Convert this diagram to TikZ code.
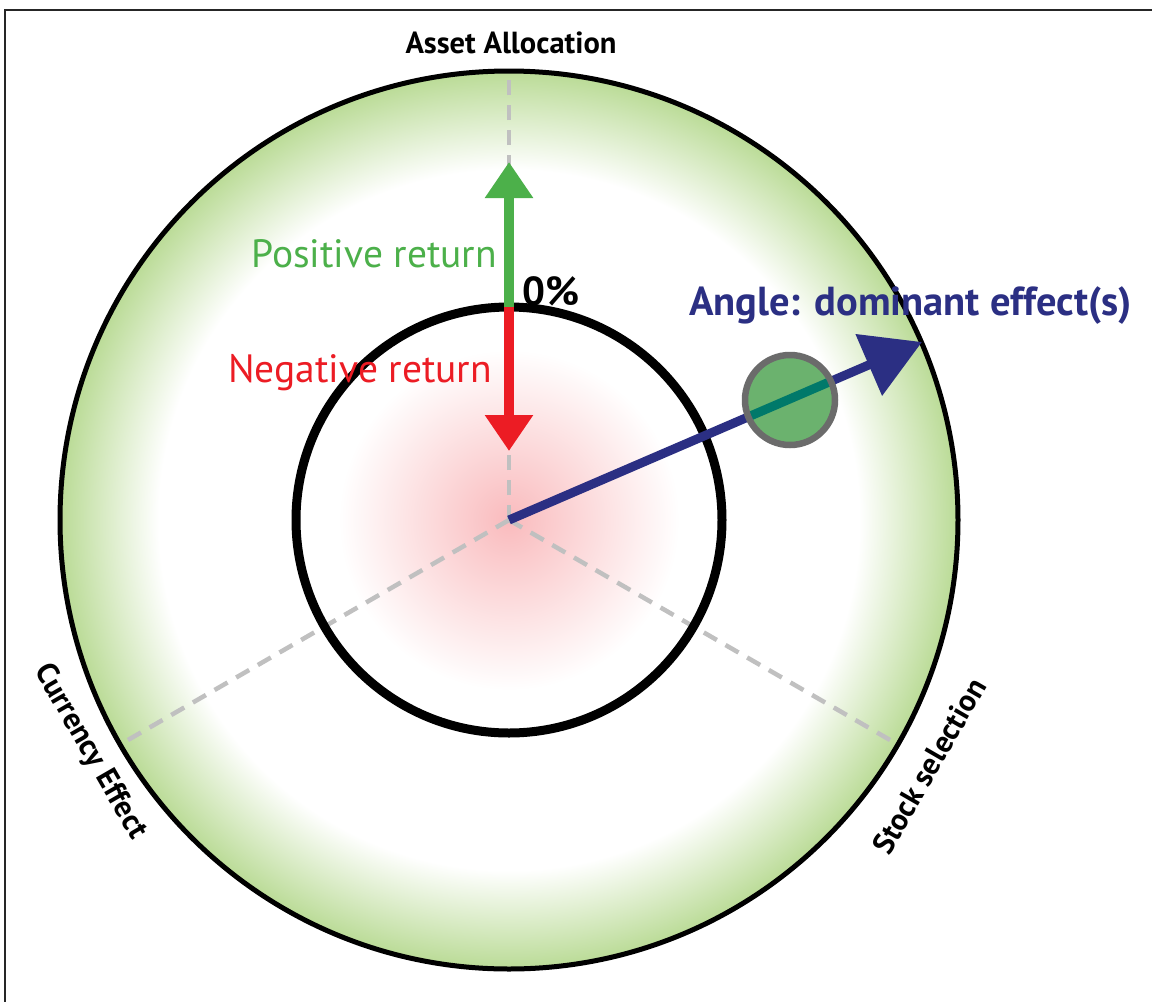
\documentclass[tikz,border=0pt]{standalone}
\usepackage{fontspec}
\setmainfont{PT Sans}
\usepackage{xcolor}
\usepackage{tikz}
\usetikzlibrary{arrows.meta, calc, positioning}

\definecolor{ringgreen}{RGB}{186,219,150}
\definecolor{posgreen}{RGB}{76,176,74}
\definecolor{negred}{RGB}{236,28,36}
\definecolor{navyblue}{RGB}{43,47,131}
\definecolor{guidegray}{RGB}{192,192,192}
\definecolor{dotgreen}{RGB}{107,178,110}
\definecolor{dotteal}{RGB}{0,121,106}
\pgfdeclareradialshading{ringshade}{\pgfpoint{0bp}{0bp}}{color(0bp)=(white); color(19.5bp)=(white); color(25bp)=(ringgreen); color(50bp)=(ringgreen)}
\pgfdeclareradialshading{redglow}{\pgfpoint{0bp}{0bp}}{color(0bp)=(negred!30); color(20bp)=(white); color(25bp)=(white); color(50bp)=(white)}

\begin{document}
\begin{tikzpicture}[x=1pt, y=-1pt,
    guide/.style = {draw=guidegray, line width=4.5pt, dash pattern=on 15pt off 10pt},
    retarrow/.style = {line width=10pt, -{Triangle[width=46pt,length=36pt]}},
    domarrow/.style = {line width=9pt, draw=navyblue, -{Triangle[width=65pt,length=58pt]}},
    lbl/.style = {inner sep=0pt, font=\fontsize{39.5}{42}\selectfont},
    boldlbl/.style = {inner sep=0pt, font=\bfseries\fontsize{40.5}{44}\selectfont},
    axislbl/.style = {inner sep=0pt, font=\bfseries\fontsize{30.5}{33}\selectfont},
]
\useasboundingbox (0,0) rectangle (1152,1002);

% frame
\draw[line width=2pt, black!85] (1152,10) -- (5,10) -- (5,1002);

\coordinate (O) at (509,520);
\coordinate (top) at (509,74);
\coordinate (cur) at ($(O)+(210:447pt)$);
\coordinate (stk) at ($(O)+(330:447pt)$);

% rings
\shade[shading=ringshade] (O) circle[radius=449pt];
\shade[shading=redglow] (O) circle[radius=213pt];

\draw[guide] (O) -- (top);
\draw[guide] (O) -- (cur);
\draw[guide] (O) -- (stk);

\draw[line width=5pt] (O) circle[radius=449pt];
\draw[line width=9pt] (O) circle[radius=213pt];

% return arrows
\coordinate (zero) at (509,307);
\coordinate (pos) at (509,162);
\coordinate (neg) at (509,451);
\draw[retarrow, posgreen] (zero) -- (pos);
\draw[retarrow, negred] (zero) -- (neg);

% dominant effect
\coordinate (dom) at (922,342);
\draw[domarrow] (O) -- (dom);
\node[circle, minimum size=92pt, draw=black!58, line width=4.5pt,
      fill=dotgreen] (dot) at (790,400) {};
\begin{scope}
  \clip (dot.center) circle[radius=43pt];
  \draw[line width=9pt, dotteal] (O) -- (dom);
\end{scope}
\draw[black!58, line width=4.5pt] (dot.center) circle[radius=44pt];

% labels
\node[axislbl, anchor=base] (aa) at (511,53) {Asset Allocation};
\node[axislbl, rotate=-60] (ce) at (90,752) {Currency Effect};
\node[axislbl, rotate=60] (ss) at (929,766) {Stock selection};
\node[lbl, posgreen, anchor=base east] (pr) at (497,267) {Positive return};
\node[lbl, negred, anchor=base east] (nr) at (492,382) {Negative return};
\node[boldlbl, anchor=base west] (zp) at (522,305) {0\%};
\node[boldlbl, navyblue, anchor=base west] (ang) at (689,315) {Angle: dominant effect(s)};
\end{tikzpicture}
\end{document}
